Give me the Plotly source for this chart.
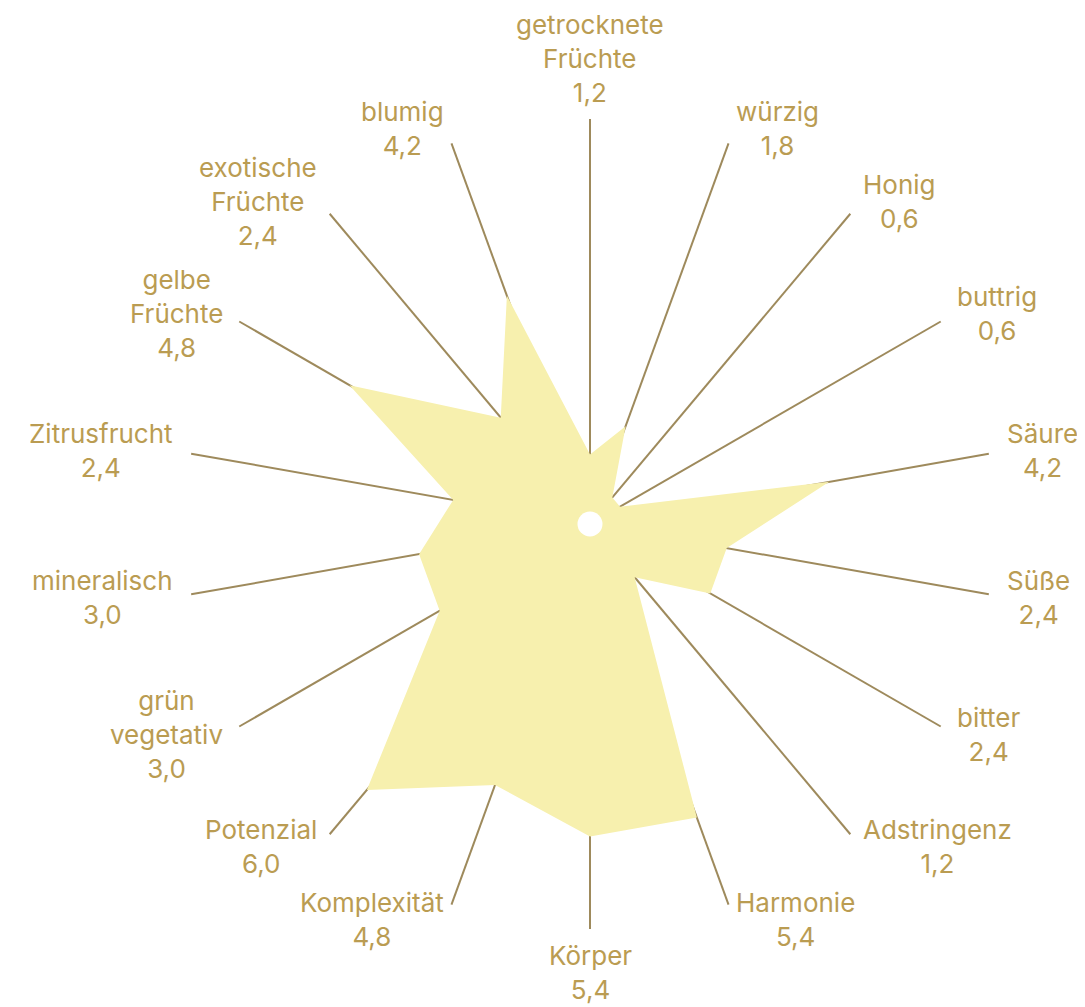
import math
import plotly.graph_objects as go

# ---- data ----
categories = [
    "getrocknete Früchte", "würzig", "Honig", "buttrig", "Säure", "Süße",
    "bitter", "Adstringenz", "Harmonie", "Körper", "Komplexität", "Potenzial",
    "grün vegetativ", "mineralisch", "Zitrusfrucht", "gelbe Früchte",
    "exotische Früchte", "blumig",
]
label_lines = [
    ["getrocknete", "Früchte"], ["würzig"], ["Honig"], ["buttrig"], ["Säure"], ["Süße"],
    ["bitter"], ["Adstringenz"], ["Harmonie"], ["Körper"], ["Komplexität"], ["Potenzial"],
    ["grün", "vegetativ"], ["mineralisch"], ["Zitrusfrucht"], ["gelbe", "Früchte"],
    ["exotische", "Früchte"], ["blumig"],
]
values = [1.2, 1.8, 0.6, 0.6, 4.2, 2.4, 2.4, 1.2, 5.4, 5.4, 4.8, 6.0, 3.0, 3.0, 2.4, 4.8, 2.4, 4.2]
r_max = 7.0

# ---- style ----
W, H = 1085, 1007
FILL = "#F7F0AE"
SPOKE = "#9E8A5C"
TEXT = "#BA9C52"
FONT = "Inter, Lato, sans-serif"
FS = 26

# page has an 8px body margin, so figure coords are offset
cx_px, cy_px, rad_px = 582.0, 516.0, 405.0
dom_x = [(cx_px - rad_px) / W, (cx_px + rad_px) / W]
dom_y = [(H - cy_px - rad_px) / H, (H - cy_px + rad_px) / H]

fig = go.Figure()
fig.add_trace(go.Scatterpolar(
    r=values + [values[0]],
    theta=categories + [categories[0]],
    mode="lines",
    fill="toself",
    fillcolor=FILL,
    line=dict(width=0, color=FILL),
    hoverinfo="skip",
    showlegend=False,
))
fig.add_trace(go.Scatterpolar(
    r=[0], theta=[categories[0]], mode="markers",
    marker=dict(color="white", size=25, line=dict(width=0)),
    hoverinfo="skip", showlegend=False,
))

# labels: name + value, centered lines, placed beside spoke ends
annotations = []
n = len(categories)
for i, (lines, v) in enumerate(zip(label_lines, values)):
    th = math.radians(360.0 * i / n)
    s, c = math.sin(th), math.cos(th)
    if s > 0.1:
        xa = "left"
    elif s < -0.1:
        xa = "right"
    else:
        xa = "center"
    if abs(s) <= 0.1:
        ya = "bottom" if c > 0 else "top"
        gap = 9
    else:
        ya = "middle"
        gap = 16
    R = rad_px + gap
    px = cx_px + R * s
    py = cy_px - R * c
    txt = "<br>".join(lines + [f"{v:.1f}".replace(".", ",")])
    annotations.append(dict(
        x=px / W, y=1 - py / H, xref="paper", yref="paper",
        text=txt, showarrow=False, xanchor=xa, yanchor=ya, align="center",
        font=dict(family=FONT, size=FS, color=TEXT),
    ))

fig.update_layout(
    width=W, height=H,
    margin=dict(l=0, r=0, t=0, b=0),
    paper_bgcolor="white",
    plot_bgcolor="white",
    showlegend=False,
    annotations=annotations,
    polar=dict(
        domain=dict(x=dom_x, y=dom_y),
        bgcolor="rgba(0,0,0,0)",
        radialaxis=dict(range=[0, r_max], visible=False, showgrid=False),
        angularaxis=dict(
            type="category",
            categoryarray=categories,
            rotation=90,
            direction="clockwise",
            showgrid=True,
            gridcolor=SPOKE,
            gridwidth=1.6,
            showline=False,
            showticklabels=False,
            ticks="",
        ),
    ),
)

fig.write_html("out.html")
